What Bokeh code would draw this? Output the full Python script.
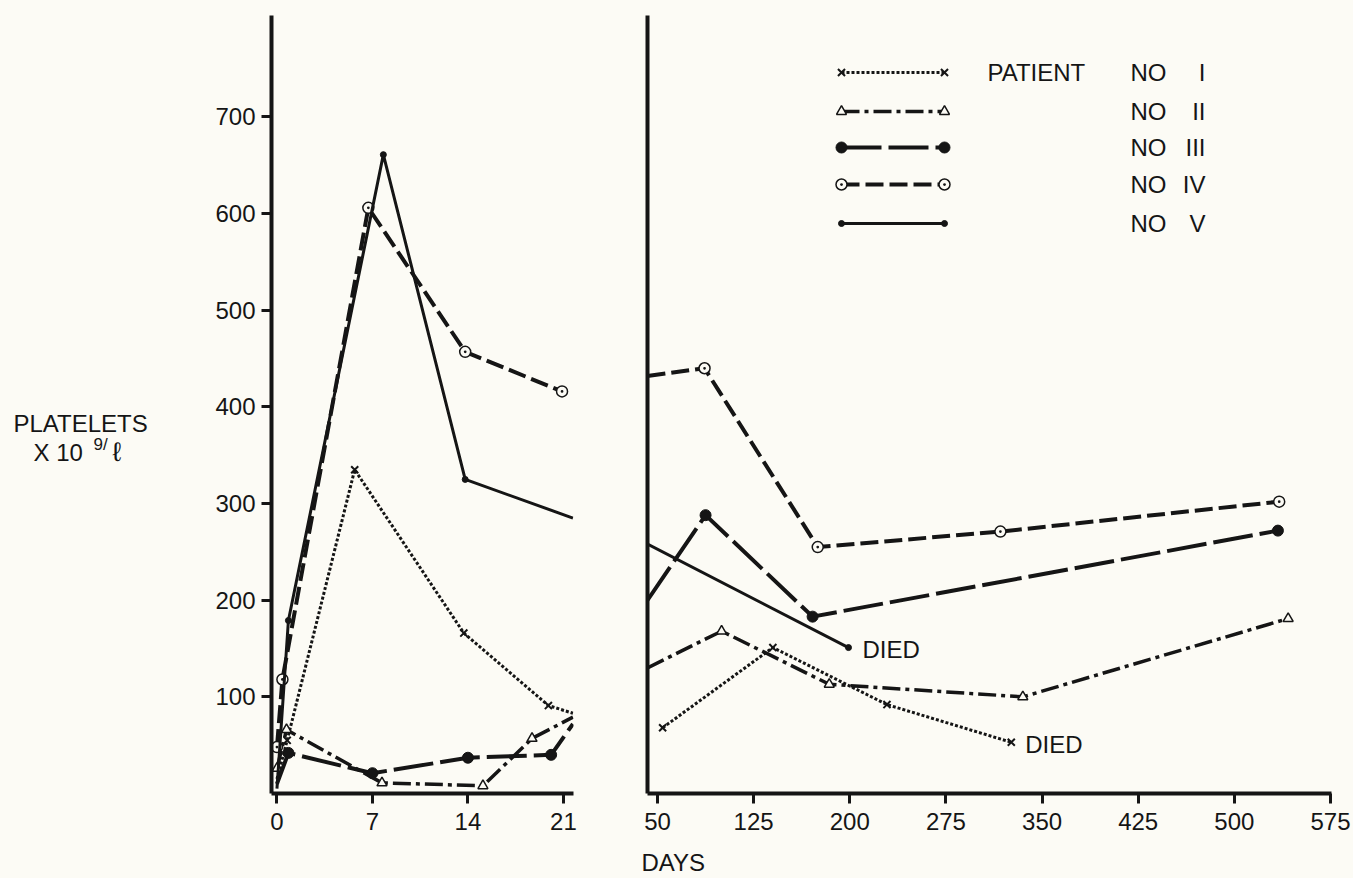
from bokeh.plotting import figure
from bokeh.layouts import row, column
from bokeh.models import Range1d, FixedTicker, Label
from bokeh.embed import file_html
from bokeh.resources import INLINE

# ---------------- data ----------------
patients = ["I", "II", "III", "IV", "V"]

# first three weeks (left panel)
early_days = {
    "I":   [0, 0.75, 5.7, 13.7, 19.9, 21.7],
    "II":  [0, 0.7, 7.7, 15.1, 18.7, 21.7],
    "III": [0, 0.84, 7.0, 14.0, 20.1, 21.7],
    "IV":  [0, 0.4, 6.7, 13.8, 20.9],
    "V":   [0, 0.84, 7.8, 13.8, 21.7],
}
early_vals = {
    "I":   [15, 55, 335, 166, 91, 83],
    "II":  [26, 66, 11, 8, 57, 79],
    "III": [10, 42, 21, 37, 40, 72],
    "IV":  [48, 118, 606, 457, 416],
    "V":   [5, 179, 661, 325, 285],
}
early_marked = {
    "I":   [False, True, True, True, True, False],
    "II":  [True, True, True, True, True, False],
    "III": [False, True, True, True, True, False],
    "IV":  [True, True, True, True, True],
    "V":   [False, True, True, True, False],
}

# follow-up (right panel)
late_days = {
    "I":   [54, 140, 229, 326],
    "II":  [42.2, 100, 184, 335, 542],
    "III": [42.2, 87.5, 171, 534],
    "IV":  [42.2, 86.7, 175, 317.5, 535],
    "V":   [42.2, 199],
}
late_vals = {
    "I":   [68, 151, 92, 53],
    "II":  [130, 168, 113, 100, 181],
    "III": [200, 288, 183, 272],
    "IV":  [432, 440, 255, 271, 302],
    "V":   [258, 151],
}
late_marked = {
    "I":   [True, True, True, True],
    "II":  [False, True, True, True, True],
    "III": [False, True, True, True],
    "IV":  [False, True, True, True, True],
    "V":   [False, True],
}
died = ["I", "V"]

left_ticks = [0, 7, 14, 21]
right_ticks = [50, 125, 200, 275, 350, 425, 500, 575]
y_ticks = [100, 200, 300, 400, 500, 600, 700]

# ---------------- style ----------------
INK = "#151515"
PAPER = "#fcfbf5"
FONT = "Liberation Sans"
FS = "24px"

STYLES = {
    "I":   dict(dash="3 2", width=3, marker="x", size=10, lw=2, fill=INK),
    "II":  dict(dash="18 5 4 5", width=3.5, marker="triangle", size=10, lw=1.5, fill=PAPER),
    "III": dict(dash="40 7", width=4, marker="circle", size=11, lw=1, fill=INK),
    "IV":  dict(dash="18 6", width=4, marker="circle_dot", size=11, lw=1.5, fill=PAPER),
    "V":   dict(dash="solid", width=3, marker="circle", size=6, lw=1, fill=INK),
}

Y_MAX = 805
L_X = (-0.4, 21.74)
R_X = (42.2, 575.8)

# page pixel geometry
ROW_H = 846
MB_T, MB_B = 15, 53
LAB_W = 200
L_W, L_MB_L, L_MB_R = 420, 71, 47
R_W, R_MB_L, R_MB_R = 732, 27, 21
DAYS_H = 30
TOTAL_W = LAB_W + L_W + R_W


def style_fig(p):
    p.outline_line_color = None
    p.background_fill_color = PAPER
    p.border_fill_color = PAPER


def make_fig(w, xr, mbl, mbr):
    p = figure(width=w, height=ROW_H, x_range=Range1d(*xr), y_range=Range1d(0, Y_MAX),
               output_backend="svg", toolbar_location=None,
               min_border_left=mbl, min_border_right=mbr,
               min_border_top=MB_T, min_border_bottom=MB_B)
    style_fig(p)
    p.xgrid.visible = False
    p.ygrid.visible = False
    for ax in (p.xaxis[0], p.yaxis[0]):
        ax.axis_line_color = INK
        ax.axis_line_width = 4
        ax.major_tick_line_color = INK
        ax.major_tick_line_width = 3
        ax.major_tick_out = 10
        ax.major_tick_in = 0
        ax.minor_tick_line_color = None
        ax.major_label_text_font = FONT
        ax.major_label_text_font_size = FS
        ax.major_label_text_color = INK
    p.xaxis[0].major_label_standoff = 9
    p.yaxis[0].major_label_standoff = 6
    return p


def make_strip(w, h):
    p = figure(width=w, height=h, x_range=Range1d(0, w), y_range=Range1d(0, h),
               output_backend="svg", toolbar_location=None,
               min_border=0, min_border_left=0, min_border_right=0,
               min_border_top=0, min_border_bottom=0)
    style_fig(p)
    p.axis.visible = False
    p.grid.visible = False
    return p


def draw(p, days, vals, marked, st):
    p.line(days, vals, line_color=INK, line_width=st["width"], line_dash=st["dash"])
    mx = [d for d, m in zip(days, marked) if m]
    my = [v for v, m in zip(vals, marked) if m]
    p.scatter(mx, my, marker=st["marker"], size=st["size"], line_color=INK,
              line_width=st["lw"], fill_color=st["fill"])


def text(p, x, y, s, size=FS, align="left"):
    p.add_layout(Label(x=x, y=y, text=s, text_font=FONT, text_font_size=size,
                       text_color=INK, text_align=align, text_baseline="middle"))


# ---------------- y-axis title strip ----------------
lab = make_strip(LAB_W, ROW_H)
text(lab, 13, ROW_H - 444, "PLATELETS")
text(lab, 33, ROW_H - 475, "X 10")
text(lab, 93, ROW_H - 467, "9/", size="17px")
text(lab, 112, ROW_H - 475, "\u2113", size="27px")

# ---------------- left panel ----------------
left = make_fig(L_W, L_X, L_MB_L, L_MB_R)
left.xaxis[0].ticker = FixedTicker(ticks=left_ticks, minor_ticks=[])
left.yaxis[0].ticker = FixedTicker(ticks=y_ticks, minor_ticks=[])
for k in patients:
    draw(left, early_days[k], early_vals[k], early_marked[k], STYLES[k])

# ---------------- right panel ----------------
right = make_fig(R_W, R_X, R_MB_L, R_MB_R)
right.xaxis[0].ticker = FixedTicker(ticks=right_ticks, minor_ticks=[])
right.yaxis[0].ticker = FixedTicker(ticks=[], minor_ticks=[])
for k in patients:
    draw(right, late_days[k], late_vals[k], late_marked[k], STYLES[k])

for k in died:
    right.add_layout(Label(x=late_days[k][-1], y=late_vals[k][-1], x_offset=14,
                           y_offset=-2, text="DIED", text_font=FONT, text_font_size=FS,
                           text_color=INK, text_baseline="middle"))

RX0 = LAB_W + L_W


def rpos(px, py):
    fl = RX0 + R_MB_L
    fr = RX0 + R_W - R_MB_R
    ft, fb = MB_T, ROW_H - MB_B
    x = R_X[0] + (px - fl) / (fr - fl) * (R_X[1] - R_X[0])
    y = (fb - py) / (fb - ft) * Y_MAX
    return x, y


# legend
leg_rows = [72, 111, 147, 184, 223]
for k, ry in zip(patients, leg_rows):
    st = STYLES[k]
    xa, ya = rpos(841, ry)
    xb, _ = rpos(944, ry)
    draw(right, [xa, xb], [ya, ya], [True, True], st)
    text(right, *rpos(1130, ry), "NO")
    text(right, *rpos(1205, ry), k, align="right")
text(right, *rpos(987, leg_rows[0]), "PATIENT")

# ---------------- x-axis title strip ----------------
days_strip = make_strip(TOTAL_W, DAYS_H)
text(days_strip, 641, DAYS_H - (862 - ROW_H), "DAYS")

layout = column(row(lab, left, right), days_strip)
html = file_html(layout, INLINE)
html = html.replace("<head>", "<head><style>body{background:%s}</style>" % PAPER, 1)
open("out.html", "w").write(html)
